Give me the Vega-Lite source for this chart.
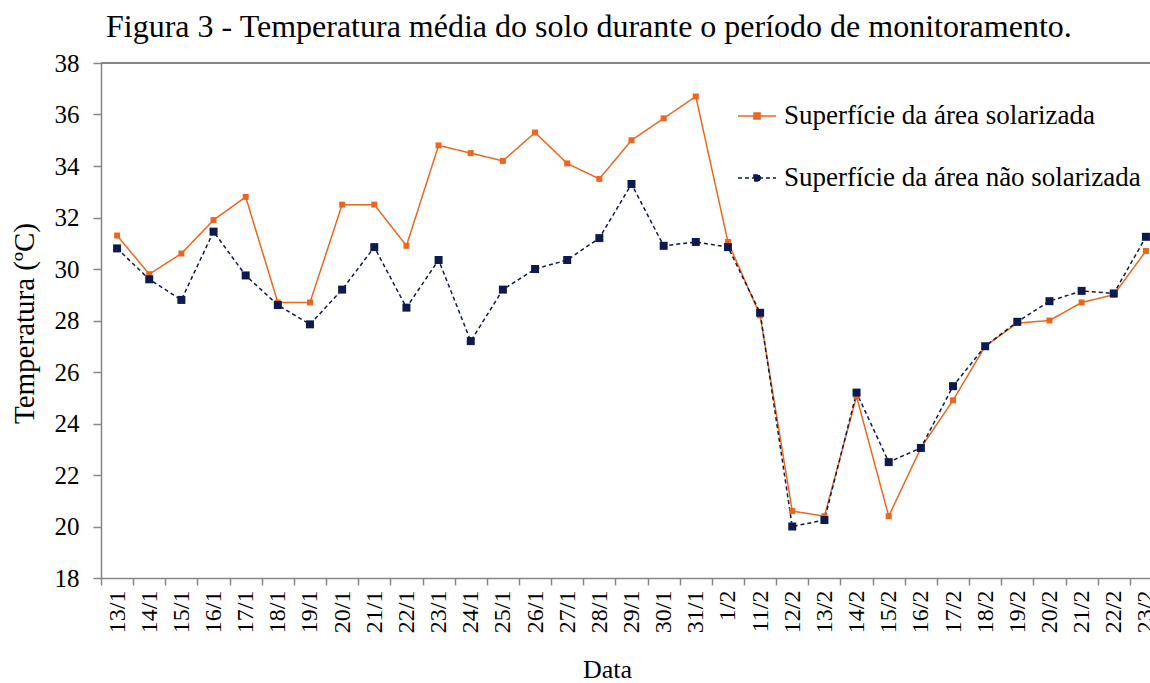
{
  "$schema": "https://vega.github.io/schema/vega-lite/v6.json",
  "width": 1049,
  "height": 515,
  "autosize": {"type": "none"},
  "padding": {"left": 101, "top": 63, "right": 0, "bottom": 105},
  "background": "white",
  "config": {
    "view": {"stroke": null},
    "font": "Liberation Serif"
  },
  "title": {
    "text": "Figura 3 - Temperatura média do solo durante o período de monitoramento.",
    "anchor": "start",
    "frame": "group",
    "font": "Liberation Serif",
    "fontSize": 32,
    "fontWeight": "normal",
    "color": "black",
    "baseline": "alphabetic",
    "offset": 25,
    "dx": 5,
    "dy": 43
  },
  "data": {
    "values": [
      {"date": "13/1", "serie": "Superfície da área solarizada", "temp": 31.3},
      {"date": "14/1", "serie": "Superfície da área solarizada", "temp": 29.8},
      {"date": "15/1", "serie": "Superfície da área solarizada", "temp": 30.6},
      {"date": "16/1", "serie": "Superfície da área solarizada", "temp": 31.9},
      {"date": "17/1", "serie": "Superfície da área solarizada", "temp": 32.8},
      {"date": "18/1", "serie": "Superfície da área solarizada", "temp": 28.7},
      {"date": "19/1", "serie": "Superfície da área solarizada", "temp": 28.7},
      {"date": "20/1", "serie": "Superfície da área solarizada", "temp": 32.5},
      {"date": "21/1", "serie": "Superfície da área solarizada", "temp": 32.5},
      {"date": "22/1", "serie": "Superfície da área solarizada", "temp": 30.9},
      {"date": "23/1", "serie": "Superfície da área solarizada", "temp": 34.8},
      {"date": "24/1", "serie": "Superfície da área solarizada", "temp": 34.5},
      {"date": "25/1", "serie": "Superfície da área solarizada", "temp": 34.2},
      {"date": "26/1", "serie": "Superfície da área solarizada", "temp": 35.3},
      {"date": "27/1", "serie": "Superfície da área solarizada", "temp": 34.1},
      {"date": "28/1", "serie": "Superfície da área solarizada", "temp": 33.5},
      {"date": "29/1", "serie": "Superfície da área solarizada", "temp": 35.0},
      {"date": "30/1", "serie": "Superfície da área solarizada", "temp": 35.85},
      {"date": "31/1", "serie": "Superfície da área solarizada", "temp": 36.7},
      {"date": "1/2", "serie": "Superfície da área solarizada", "temp": 31.05},
      {"date": "11/2", "serie": "Superfície da área solarizada", "temp": 28.2},
      {"date": "12/2", "serie": "Superfície da área solarizada", "temp": 20.6},
      {"date": "13/2", "serie": "Superfície da área solarizada", "temp": 20.4},
      {"date": "14/2", "serie": "Superfície da área solarizada", "temp": 25.05},
      {"date": "15/2", "serie": "Superfície da área solarizada", "temp": 20.4},
      {"date": "16/2", "serie": "Superfície da área solarizada", "temp": 23.05},
      {"date": "17/2", "serie": "Superfície da área solarizada", "temp": 24.9},
      {"date": "18/2", "serie": "Superfície da área solarizada", "temp": 27.0},
      {"date": "19/2", "serie": "Superfície da área solarizada", "temp": 27.9},
      {"date": "20/2", "serie": "Superfície da área solarizada", "temp": 28.0},
      {"date": "21/2", "serie": "Superfície da área solarizada", "temp": 28.7},
      {"date": "22/2", "serie": "Superfície da área solarizada", "temp": 29.0},
      {"date": "23/2", "serie": "Superfície da área solarizada", "temp": 30.7},
      {"date": "13/1", "serie": "Superfície da área não solarizada", "temp": 30.8},
      {"date": "14/1", "serie": "Superfície da área não solarizada", "temp": 29.6},
      {"date": "15/1", "serie": "Superfície da área não solarizada", "temp": 28.8},
      {"date": "16/1", "serie": "Superfície da área não solarizada", "temp": 31.45},
      {"date": "17/1", "serie": "Superfície da área não solarizada", "temp": 29.75},
      {"date": "18/1", "serie": "Superfície da área não solarizada", "temp": 28.6},
      {"date": "19/1", "serie": "Superfície da área não solarizada", "temp": 27.85},
      {"date": "20/1", "serie": "Superfície da área não solarizada", "temp": 29.2},
      {"date": "21/1", "serie": "Superfície da área não solarizada", "temp": 30.85},
      {"date": "22/1", "serie": "Superfície da área não solarizada", "temp": 28.5},
      {"date": "23/1", "serie": "Superfície da área não solarizada", "temp": 30.35},
      {"date": "24/1", "serie": "Superfície da área não solarizada", "temp": 27.2},
      {"date": "25/1", "serie": "Superfície da área não solarizada", "temp": 29.2},
      {"date": "26/1", "serie": "Superfície da área não solarizada", "temp": 30.0},
      {"date": "27/1", "serie": "Superfície da área não solarizada", "temp": 30.35},
      {"date": "28/1", "serie": "Superfície da área não solarizada", "temp": 31.2},
      {"date": "29/1", "serie": "Superfície da área não solarizada", "temp": 33.3},
      {"date": "30/1", "serie": "Superfície da área não solarizada", "temp": 30.9},
      {"date": "31/1", "serie": "Superfície da área não solarizada", "temp": 31.05},
      {"date": "1/2", "serie": "Superfície da área não solarizada", "temp": 30.85},
      {"date": "11/2", "serie": "Superfície da área não solarizada", "temp": 28.3},
      {"date": "12/2", "serie": "Superfície da área não solarizada", "temp": 20.0},
      {"date": "13/2", "serie": "Superfície da área não solarizada", "temp": 20.25},
      {"date": "14/2", "serie": "Superfície da área não solarizada", "temp": 25.2},
      {"date": "15/2", "serie": "Superfície da área não solarizada", "temp": 22.5},
      {"date": "16/2", "serie": "Superfície da área não solarizada", "temp": 23.05},
      {"date": "17/2", "serie": "Superfície da área não solarizada", "temp": 25.45},
      {"date": "18/2", "serie": "Superfície da área não solarizada", "temp": 27.0},
      {"date": "19/2", "serie": "Superfície da área não solarizada", "temp": 27.95},
      {"date": "20/2", "serie": "Superfície da área não solarizada", "temp": 28.75},
      {"date": "21/2", "serie": "Superfície da área não solarizada", "temp": 29.15},
      {"date": "22/2", "serie": "Superfície da área não solarizada", "temp": 29.05},
      {"date": "23/2", "serie": "Superfície da área não solarizada", "temp": 31.25}
    ]
  },
  "encoding": {
    "x": {
      "field": "date",
      "type": "nominal",
      "sort": null,
      "scale": {
        "type": "band",
        "domain": ["13/1","14/1","15/1","16/1","17/1","18/1","19/1","20/1","21/1","22/1","23/1","24/1","25/1","26/1","27/1","28/1","29/1","30/1","31/1","1/2","11/2","12/2","13/2","14/2","15/2","16/2","17/2","18/2","19/2","20/2","21/2","22/2","23/2"],
        "range": [0, 1061],
        "paddingInner": 0,
        "paddingOuter": 0
      },
      "axis": {
        "title": "Data",
        "titleFont": "Liberation Serif",
        "titleFontSize": 26,
        "titleFontWeight": "normal",
        "titleColor": "black",
        "titleX": 506,
        "titleY": 99,
        "titleBaseline": "alphabetic",
        "titleAnchor": null,
        "titleAlign": "center",
        "labelAngle": 270,
        "labelAlign": "right",
        "labelBaseline": "middle",
        "labelFont": "Liberation Serif",
        "labelFontSize": 24,
        "labelColor": "black",
        "labelPadding": 5,
        "tickBand": "extent",
        "tickSize": 7,
        "tickColor": "#868686",
        "tickWidth": 1.5,
        "domainColor": "#868686",
        "domainWidth": 1.5,
        "grid": false,
        "labelOverlap": false
      }
    },
    "y": {
      "field": "temp",
      "type": "quantitative",
      "scale": {"domain": [18, 38], "nice": false, "zero": false},
      "axis": {
        "title": "Temperatura (ºC)",
        "titleFont": "Liberation Serif",
        "titleFontSize": 29,
        "titleFontWeight": "normal",
        "titleColor": "black",
        "titleX": -68,
        "titleY": 260,
        "titleAngle": 270,
        "titleBaseline": "alphabetic",
        "titleAlign": "center",
        "values": [18, 20, 22, 24, 26, 28, 30, 32, 34, 36, 38],
        "labelFont": "Liberation Serif",
        "labelFontSize": 25,
        "labelColor": "black",
        "labelPadding": 14,
        "tickSize": 8,
        "tickColor": "#868686",
        "tickWidth": 1.5,
        "domainColor": "#868686",
        "domainWidth": 1.5,
        "grid": false
      }
    },
    "color": {
      "field": "serie",
      "type": "nominal",
      "sort": null,
      "scale": {
        "domain": ["Superfície da área solarizada", "Superfície da área não solarizada"],
        "range": ["#EE661E", "#0C1A4D"]
      },
      "legend": {
        "title": null,
        "orient": "none",
        "legendX": 636,
        "legendY": 33,
        "symbolType": "M-1,0H1M-0.16,-0.16H0.16V0.16H-0.16Z",
        "symbolSize": 1444,
        "symbolStrokeWidth": 1.5,
        "labelFont": "Liberation Serif",
        "labelFontSize": 27,
        "labelColor": "black",
        "labelOffset": 7,
        "labelLimit": 0,
        "rowPadding": 29,
        "encode": {
          "symbols": {
            "update": {
              "size": {"value": 1444},
              "shape": {"value": "M-1,0H1M-0.16,-0.16H0.16V0.16H-0.16Z"},
              "strokeWidth": {"value": 1.5},
              "fill": {"scale": "color", "field": "value"},
              "stroke": {"scale": "color", "field": "value"},
              "strokeDash": {"scale": "strokeDash", "field": "value"},
              "opacity": {"value": 1}
            }
          }
        }
      }
    }
  },
  "layer": [
    {
      "mark": {"type": "rule", "color": "#868686", "strokeWidth": 1.5},
      "encoding": {"y": {"datum": 38}, "x": null, "color": null}
    },
    {
      "mark": {"type": "line", "strokeWidth": 1.5},
      "encoding": {
        "strokeDash": {
          "field": "serie",
          "type": "nominal",
          "sort": null,
          "scale": {
            "domain": ["Superfície da área solarizada", "Superfície da área não solarizada"],
            "range": [[1, 0], [4, 3]]
          },
          "legend": null
        }
      }
    },
    {
      "transform": [{"filter": {"field": "serie", "equal": "Superfície da área solarizada"}}],
      "mark": {"type": "point", "shape": "square", "filled": true, "opacity": 1, "size": 36}
    },
    {
      "transform": [{"filter": {"field": "serie", "equal": "Superfície da área não solarizada"}}],
      "mark": {"type": "point", "shape": "square", "filled": true, "opacity": 1, "size": 64}
    }
  ]
}
